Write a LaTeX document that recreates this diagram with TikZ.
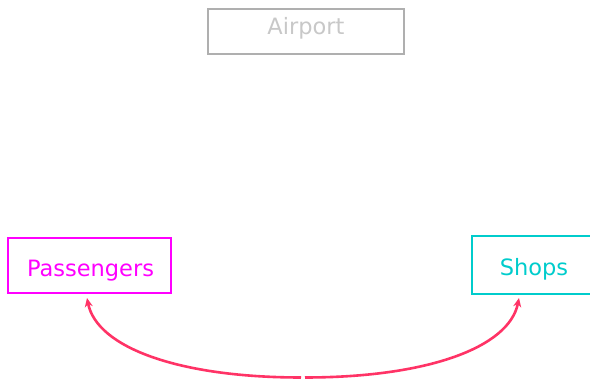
\documentclass[tikz,border=0pt]{standalone}
\usepackage{fontspec}
\setmainfont{DejaVu Sans}
\usetikzlibrary{arrows.meta}
\definecolor{boxgray}{HTML}{AFAFAF}
\definecolor{txtgray}{HTML}{C8C8C8}
\definecolor{mag}{HTML}{FF00FF}
\definecolor{cyn}{HTML}{00CCCC}
\definecolor{arr}{HTML}{FF3366}
\begin{document}
\begin{tikzpicture}[x=1pt,y=-1pt,
  boxst/.style={draw,rectangle,line width=2.6pt,inner sep=0pt},
  lbl/.style={anchor=base,inner sep=0pt,font=\fontsize{22.5}{26}\selectfont},
  conn/.style={draw=arr,line width=2.6pt,-{Stealth[length=9pt,width=8pt]}}]
\useasboundingbox (0,0) rectangle (590,379);
\node[boxst,draw=boxgray,minimum width=196pt,minimum height=45pt] (airport) at (306,31.5) {};
\node[lbl,text=txtgray] (airportt) at (306,35) {Airport};
\node[boxst,draw=mag,minimum width=163pt,minimum height=55pt] (pass) at (89.5,265.5) {};
\node[lbl,text=mag] (passt) at (90.5,276.5) {Passengers};
\node[boxst,draw=cyn,minimum width=124pt,minimum height=58pt] (shops) at (534,265) {};
\node[lbl,text=cyn] (shopst) at (534,275.5) {Shops};
\coordinate (ml) at (301,377.5);
\coordinate (mr) at (305,377.5);
\coordinate (pt) at (87,298);
\coordinate (st) at (519,298);
\draw[conn] (ml) .. controls (180,377.5) and (97,348) .. (pt);
\draw[conn] (mr) .. controls (426,377.5) and (509,348) .. (st);
\end{tikzpicture}
\end{document}
